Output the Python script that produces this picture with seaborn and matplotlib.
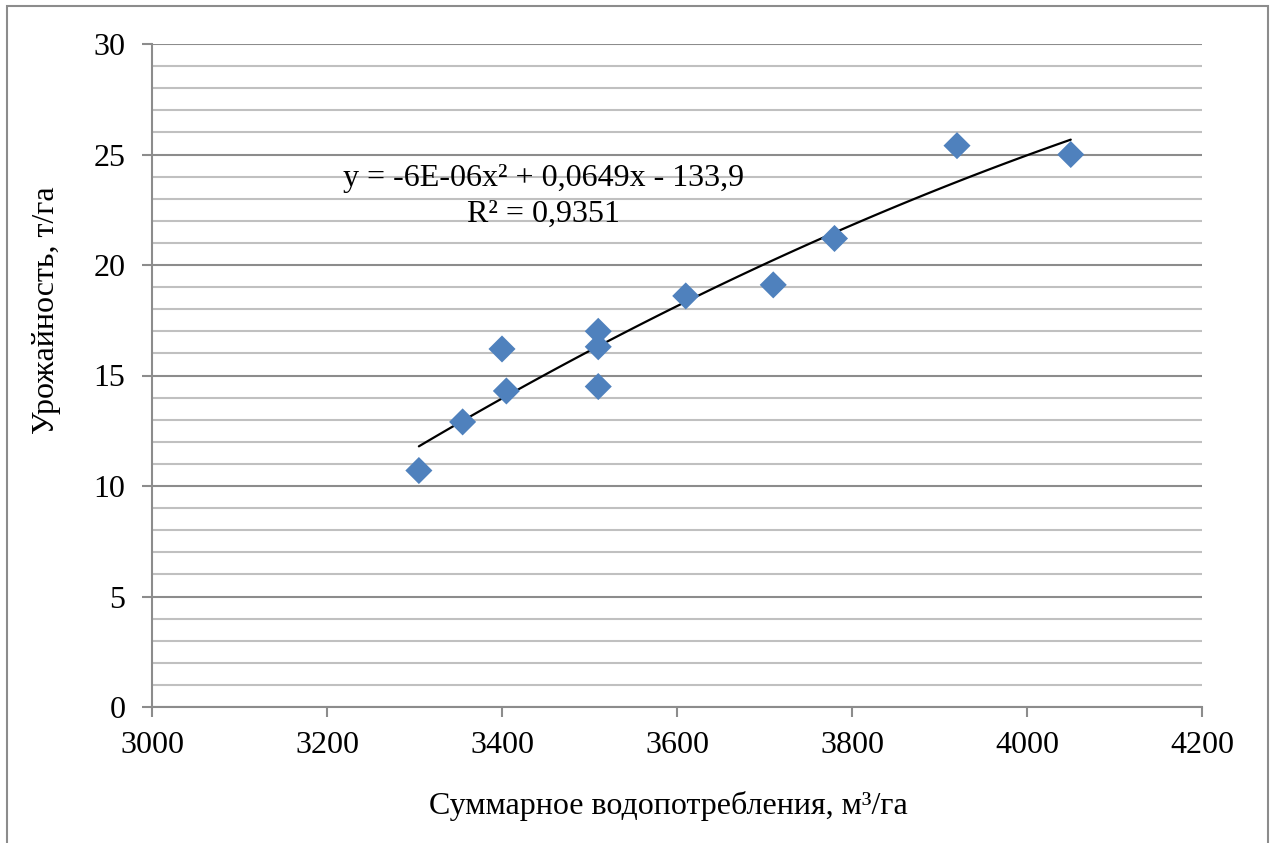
import matplotlib
matplotlib.use("Agg")
import matplotlib.pyplot as plt
import matplotlib.patches as patches
from matplotlib.ticker import MultipleLocator
import numpy as np
import pandas as pd
import seaborn as sns

# water use (m3/ha) vs yield (t/ha)
water_use = [3305, 3355, 3400, 3405, 3510, 3510, 3510, 3610, 3710, 3780, 3920, 4050]
yield_t = [10.7, 12.9, 16.2, 14.3, 17.0, 16.3, 14.5, 18.6, 19.1, 21.2, 25.4, 25.0]

x_label = "Суммарное водопотребления, м³/га"
y_label = "Урожайность, т/га"
eq_text = "y = -6E-06x² + 0,0649x - 133,9"
r2_text = "R² = 0,9351"

df = pd.DataFrame({"water": water_use, "yield": yield_t})

sns.set_style("white")
plt.rcParams["font.family"] = ["Liberation Serif", "DejaVu Serif"]
plt.rcParams["text.color"] = "black"

fig = plt.figure(figsize=(12.75, 8.43), dpi=100)
ax = fig.add_axes([152 / 1275, 1 - 707 / 843, 1050 / 1275, 663 / 843])

major_c = "#8c8c8c"
minor_c = "#c0c0c0"
fs = 23

ax.set_xlim(3000, 4200)
ax.set_ylim(0, 30)
ax.xaxis.set_major_locator(MultipleLocator(200))
ax.yaxis.set_major_locator(MultipleLocator(5))
ax.yaxis.set_minor_locator(MultipleLocator(1))
ax.grid(axis="y", which="major", color=major_c, linewidth=1.5, zorder=0)
ax.grid(axis="y", which="minor", color=minor_c, linewidth=1.5, zorder=0)
ax.grid(axis="x", visible=False)
ax.set_axisbelow(True)

for side in ["top", "right"]:
    ax.spines[side].set_visible(False)
for side in ["left", "bottom"]:
    ax.spines[side].set_color(major_c)
    ax.spines[side].set_linewidth(1.5)

ax.tick_params(axis="both", which="major", direction="out", length=7, width=1.5,
               color=major_c, labelsize=fs, labelcolor="black")
ax.tick_params(axis="y", which="major", pad=12)
ax.tick_params(axis="x", which="major", pad=10)
ax.tick_params(axis="y", which="minor", length=0)
ax.tick_params(left=True, bottom=True)

sns.regplot(data=df, x="water", y="yield", order=2, ci=None, scatter=False,
            truncate=True, ax=ax, line_kws={"color": "black", "linewidth": 1.6, "zorder": 3})
sns.scatterplot(data=df, x="water", y="yield", marker="D", s=190, color="#4f81bd",
                edgecolor="none", ax=ax, zorder=4)
ax.set_xlim(3000, 4200)
ax.set_ylim(0, 30)
ax.set_xlabel("")
ax.set_ylabel("")

ax.text(3447, 23.9, eq_text, fontsize=fs, ha="center", va="center", color="black")
ax.text(3447, 22.3, r2_text, fontsize=fs, ha="center", va="center", color="black")

fig.text(668 / 1275, 1 - 806 / 843, x_label, fontsize=fs, ha="center", va="center",
         color="black")
fig.text(47 / 1275, 1 - 310 / 843, y_label, fontsize=fs, ha="center", va="center",
         rotation=90, color="black")

border = patches.Rectangle((7 / 1275, -0.05), 1261 / 1275, 1.05 - 6 / 843,
                           transform=fig.transFigure, fill=False, edgecolor="#8c8c8c",
                           linewidth=1.5, clip_on=False)
fig.patches.append(border)

fig.savefig("out.png", dpi=100, facecolor="white")
